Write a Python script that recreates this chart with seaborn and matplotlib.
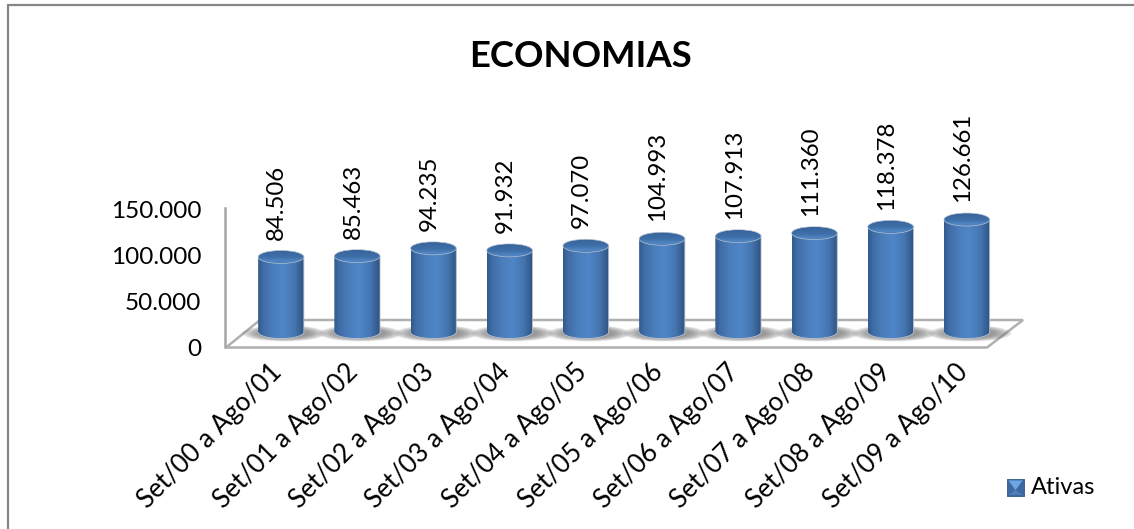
import numpy as np
import matplotlib
matplotlib.use("Agg")
import matplotlib.pyplot as plt
import seaborn as sns
from matplotlib.colors import LinearSegmentedColormap
from matplotlib.legend_handler import HandlerBase
from matplotlib.patches import Ellipse, PathPatch, Patch, Polygon, Rectangle
from matplotlib.path import Path
from matplotlib.transforms import ScaledTranslation

# ---- data ----
periods = ["Set/00 a Ago/01", "Set/01 a Ago/02", "Set/02 a Ago/03", "Set/03 a Ago/04",
           "Set/04 a Ago/05", "Set/05 a Ago/06", "Set/06 a Ago/07", "Set/07 a Ago/08",
           "Set/08 a Ago/09", "Set/09 a Ago/10"]
ativas = [84506, 85463, 94235, 91932, 97070, 104993, 107913, 111360, 118378, 126661]
value_ticks = [0, 50000, 100000, 150000]
series_name = "Ativas"
chart_title = "ECONOMIAS"

W, H = 1134, 529


def fmt(v):
    return f"{v:,}".replace(",", ".")


sns.set_theme(style="white")
plt.rcParams["font.family"] = ["Lato", "DejaVu Sans"]
plt.rcParams["text.color"] = "black"

fig = plt.figure(figsize=(W / 100, H / 100), dpi=100, facecolor="white")


def px_axes(left, top, right, bottom, **kw):
    return fig.add_axes([left / W, 1 - bottom / H, (right - left) / W, (bottom - top) / H], **kw)


# ---- backdrop: chart frame and floor of the 3D plot, in pixel units ----
deco = px_axes(0, 0, W, H, zorder=0)
deco.set_xlim(0, W)
deco.set_ylim(H, 0)
deco.axis("off")
deco.plot([7.5, 7.5, W], [H, 4.5, 4.5], color="#868686", lw=1.6, solid_joinstyle="miter")
deco.add_patch(Polygon([(226, 347.5), (987, 347.5), (1023, 320), (260, 320)], closed=True,
                       facecolor="white", edgecolor="#b0b0b0", lw=1.8))

# ---- value axis on the side wall ----
wall = px_axes(225, 208, 240, 346.5, zorder=1)
wall.set_ylim(0, 150000)
wall.set_xticks([])
wall.set_yticks(value_ticks, [fmt(t) for t in value_ticks])
wall.tick_params(axis="y", length=0, pad=17, labelsize=17.5, labelcolor="black")
wall.patch.set_alpha(0)
tick_shift = ScaledTranslation(0, -1.5 / 100, fig.dpi_scale_trans)
for lab in wall.get_yticklabels():
    lab.set_transform(lab.get_transform() + tick_shift)
for side in ("top", "right", "bottom"):
    wall.spines[side].set_visible(False)
wall.spines["left"].set_color("#a6a6a6")
wall.spines["left"].set_linewidth(1.8)

# ---- cylinders ----
ax = px_axes(242.9, 198.8, 1004.9, 332, zorder=2)
ax.patch.set_alpha(0)
sns.barplot(x=periods, y=ativas, color="#4f81bd", width=0.6, ax=ax, saturation=1)
ax.set_xlim(-0.5, 9.5)
ax.set_ylim(0, 150000)
sns.despine(ax=ax, left=True, bottom=True)
ax.set_yticks([])
ax.tick_params(axis="x", length=0, pad=21, labelsize=18.6, labelcolor="black")
label_shift = ScaledTranslation(-12 / 100, 2 / 100, fig.dpi_scale_trans)
for lab in ax.get_xticklabels():
    lab.set(rotation=45, ha="right", rotation_mode="anchor")
    lab.set_transform(lab.get_transform() + label_shift)

body_cmap = LinearSegmentedColormap.from_list(
    "body", [(0, "#33598a"), (0.1, "#3e6ca5"), (0.3, "#4a7cb9"), (0.55, "#5086c8"),
             (0.8, "#4475b0"), (0.93, "#375f92"), (1, "#2f5482")])
cap_cmap = LinearSegmentedColormap.from_list(
    "cap", [(0, "#38639a"), (0.55, "#3f70aa"), (0.85, "#5186c4"), (1, "#4a7cb8")])

ry = 6.5 / 0.888 * 1000          # ellipse half-height, in value units
theta = np.linspace(0, np.pi, 60)
grad_h = np.linspace(0, 1, 128)[None, :]
grad_v = np.linspace(0, 1, 64)[:, None]

for bar in ax.patches:
    x0, w, v = bar.get_x(), bar.get_width(), bar.get_height()
    xc, rx = x0 + w / 2, w / 2
    bar.set_visible(False)

    # soft contact shadow on the floor
    for s in np.linspace(1, 0.6, 8):
        ax.add_patch(Ellipse((xc + 0.04, -1500), (w + 0.5) * s, ry * 2.5 * s,
                             facecolor="#6a6a6a", edgecolor="none", alpha=0.13,
                             clip_on=False, zorder=1))

    # body outline: straight sides plus the rounded lower edge
    xs = np.r_[xc - rx, xc + rx, xc + rx * np.cos(theta)]
    ys = np.r_[v, v, -ry * np.sin(theta)]
    outline = Path(np.c_[xs, ys])
    im = ax.imshow(grad_h, cmap=body_cmap, extent=(x0, x0 + w, -ry, v), aspect="auto",
                   zorder=3, interpolation="bilinear")
    clip = PathPatch(outline, transform=ax.transData, facecolor="none",
                     edgecolor="#b4c2d2", lw=0.6, zorder=3.2, clip_on=False)
    ax.add_patch(clip)
    im.set_clip_path(clip)
    im.set_clip_box(fig.bbox)

    # top cap
    cap_im = ax.imshow(grad_v, cmap=cap_cmap, extent=(x0, x0 + w, v - ry, v + ry),
                       aspect="auto", zorder=4, interpolation="bilinear")
    cap = Ellipse((xc, v), w, ry * 2, facecolor="none", edgecolor="#b4c2d2", lw=0.5,
                  transform=ax.transData, zorder=4.2, clip_on=False)
    ax.add_patch(cap)
    cap_im.set_clip_path(cap)

ax.set_xlim(-0.5, 9.5)
ax.set_ylim(0, 150000)

# ---- value labels above each cylinder ----
bars = ax.containers[0]
texts = ax.bar_label(bars, labels=[fmt(v) for v in ativas], rotation=90, padding=12.5,
                     fontsize=17.3, color="black", zorder=6)
for t in texts:
    t.set_clip_on(False)
    t.xyann = (-3, t.xyann[1])

fig.text(580.5 / W, 1 - 56.5 / H, chart_title, ha="center", va="center",
         fontsize=26.3, fontweight="bold", color="black")


# ---- legend with its bevelled swatch ----
class BevelHandler(HandlerBase):
    def create_artists(self, legend, orig, xd, yd, width, height, fontsize, trans):
        x0, y0, s = -xd, -yd - 1, width
        parts = [
            Rectangle((x0, y0), s, s, facecolor="#3c6a9f", edgecolor="#2f5a8c", lw=0.6),
            Polygon([(x0 + 1, y0 + s - 1), (x0 + s - 1, y0 + s - 1), (x0 + s / 2, y0 + s * 0.35)],
                    closed=True, facecolor="#6ea6e4", edgecolor="none"),
            Polygon([(x0 + 1, y0 + 1), (x0 + s - 1, y0 + 1), (x0 + s / 2, y0 + s * 0.35)],
                    closed=True, facecolor="#4f81bd", edgecolor="none"),
        ]
        for p in parts:
            p.set_transform(trans)
        return parts


handle = Patch(facecolor="#4f81bd", label=series_name)
fig.legend(handles=[handle], handler_map={Patch: BevelHandler()}, frameon=False,
           loc="center left", bbox_to_anchor=(1007 / W, 1 - 488 / H), borderpad=0,
           borderaxespad=0, handlelength=0.72, handleheight=0.72, handletextpad=0.3,
           fontsize=17)

fig.savefig("out.png", dpi=100)
